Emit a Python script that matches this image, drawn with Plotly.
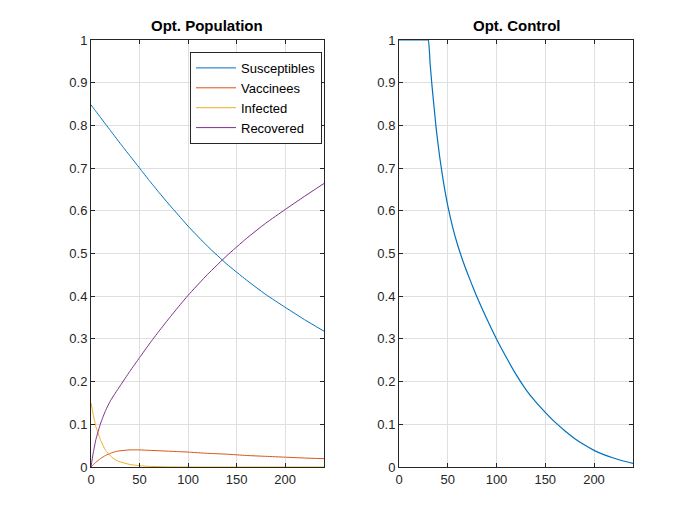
import plotly.graph_objects as go

# time samples (days)
t_pop = [0, 2, 5, 10, 15, 20, 25, 30, 40, 50, 60, 70, 80, 90, 100,
         120, 140, 160, 180, 200, 220, 240]
susceptibles = [0.848, 0.842, 0.833, 0.818, 0.803, 0.788, 0.773, 0.758, 0.729, 0.700,
                0.671, 0.643, 0.616, 0.590, 0.564, 0.517, 0.475, 0.438, 0.404, 0.374,
                0.345, 0.318]
vaccinees = [0.0, 0.005, 0.011, 0.020, 0.027, 0.032, 0.036, 0.038, 0.040, 0.040,
             0.039, 0.038, 0.037, 0.036, 0.035, 0.032, 0.030, 0.027, 0.025, 0.023,
             0.021, 0.0195]
infected = [0.150, 0.126, 0.095, 0.062, 0.039, 0.026, 0.017, 0.012, 0.006, 0.003,
            0.0015, 0.0008, 0.0004, 0.0002, 0.0001, 0.0, 0.0, 0.0, 0.0, 0.0,
            0.0, 0.0]
recovered = [0.0, 0.029, 0.064, 0.103, 0.132, 0.155, 0.173, 0.190, 0.224, 0.256,
             0.288, 0.318, 0.347, 0.375, 0.402, 0.451, 0.495, 0.535, 0.571, 0.603,
             0.634, 0.664]

# optimal control (right panel)
t_ctrl = [0, 29, 30, 32, 34, 36, 38, 40, 42, 44, 46, 48, 50, 55, 60, 65, 70, 75, 80, 90,
          100, 110, 120, 130, 140, 150, 160, 170, 180, 190, 200, 210, 220, 230, 240]
control = [1.0, 1.0, 1.0, 0.942, 0.889, 0.842, 0.796, 0.757, 0.722, 0.691, 0.662, 0.636,
           0.612, 0.562, 0.521, 0.486, 0.455, 0.426, 0.398, 0.347, 0.300, 0.257,
           0.217, 0.182, 0.153, 0.128, 0.105, 0.085, 0.067, 0.052, 0.039, 0.029,
           0.021, 0.014, 0.0087]

colors = ["#0072BD", "#D95319", "#EDB120", "#7E2F8E"]
names = ["Susceptibles", "Vaccinees", "Infected", "Recovered"]
series = [susceptibles, vaccinees, infected, recovered]

fig = go.Figure()
for name, ys, c in zip(names, series, colors):
    fig.add_trace(go.Scatter(x=t_pop, y=ys, name=name, mode="lines",
                             line=dict(color=c, width=1, shape="spline", smoothing=0.5),
                             xaxis="x", yaxis="y"))
fig.add_trace(go.Scatter(x=t_ctrl, y=control, mode="lines", showlegend=False,
                         line=dict(color=colors[0], width=1.2, shape="spline", smoothing=0.6),
                         xaxis="x2", yaxis="y2"))

ax = dict(showline=True, linecolor="#262626", linewidth=1, mirror="ticks",
          ticks="inside", ticklen=4, tickcolor="#262626", showgrid=True,
          gridcolor="#dfdfdf", gridwidth=1, zeroline=False, automargin=False,
          tickfont=dict(family="Liberation Sans, Arial", size=13, color="#262626"))
xt = dict(range=[0, 240], tickvals=[0, 50, 100, 150, 200], **ax)
yt = dict(range=[0, 1], tickvals=[i / 10 for i in range(11)],
          ticktext=["0", "0.1", "0.2", "0.3", "0.4", "0.5", "0.6", "0.7", "0.8", "0.9", "1"],
          **ax)

# the page puts the figure 8px in from the top-left corner
fig.update_layout(
    width=700, height=525,
    paper_bgcolor="white", plot_bgcolor="white",
    margin=dict(l=0, r=0, t=32, b=66),
    xaxis=dict(domain=[83 / 700, 316 / 700], anchor="y", **xt),
    yaxis=dict(domain=[0, 1], anchor="x", **yt),
    xaxis2=dict(domain=[391 / 700, 625 / 700], anchor="y2", **xt),
    yaxis2=dict(domain=[0, 1], anchor="x2", **yt),
    legend=dict(x=314 / 700, y=0.972, xanchor="right", yanchor="top",
                bordercolor="#262626", borderwidth=1, bgcolor="white",
                font=dict(family="Liberation Sans, Arial", size=13, color="#000000"),
                tracegroupgap=0, itemwidth=40),
    annotations=[
        dict(text="<b>Opt. Population</b>", x=199.5 / 700, y=1, xref="paper", yref="paper",
             xanchor="center", yanchor="bottom", yshift=4, showarrow=False,
             font=dict(family="Liberation Sans, Arial", size=15, color="#000000")),
        dict(text="<b>Opt. Control</b>", x=508 / 700, y=1, xref="paper", yref="paper",
             xanchor="center", yanchor="bottom", yshift=4, showarrow=False,
             font=dict(family="Liberation Sans, Arial", size=15, color="#000000")),
    ],
)

fig.write_html("out.html")
